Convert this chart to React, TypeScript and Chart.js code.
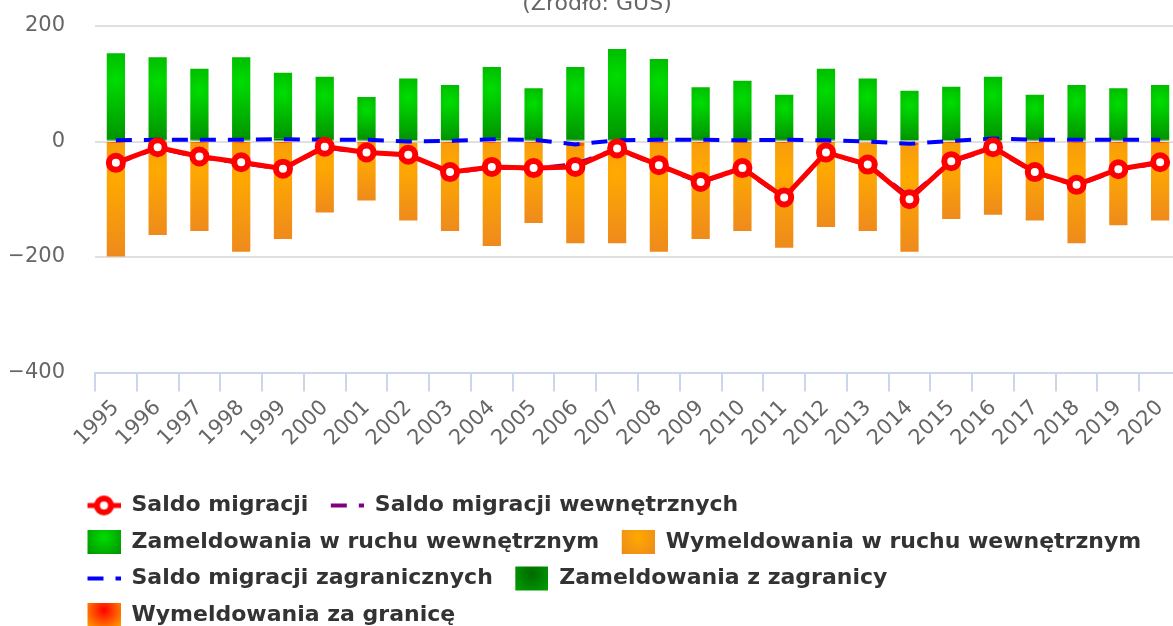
import { useEffect, useRef } from 'react';
import { Chart, registerables } from 'chart.js';

Chart.register(...registerables);

// ---- data ----
const years = ['1995','1996','1997','1998','1999','2000','2001','2002','2003','2004','2005','2006','2007','2008','2009','2010','2011','2012','2013','2014','2015','2016','2017','2018','2019','2020'];
const saldoMigracji = [-37,-10,-26,-36,-47,-9,-19,-23,-53,-44,-46,-44,-12,-41,-70,-46,-97,-19,-40,-100,-34,-10,-53,-75,-48,-36];
const saldoWewnetrznych = [-38,-11,-27,-37,-48,-10,-20,-23,-54,-45,-47,-39,-13,-42,-71,-47,-98,-20,-40,-96,-35,-12,-54,-76,-49,-37];
const saldoZagranicznych = [2,3,3,3,4,3,3,0,1,4,3,-5,2,3,3,2,3,2,0,-4,1,5,3,3,3,3];
const zameldowaniaWewn = [150,142,122,142,114,108,73,107,96,124,88,126,157,139,90,102,77,123,107,86,93,106,77,94,88,94];
const wymeldowaniaWewn = [-198,-161,-154,-190,-168,-122,-101,-135,-154,-180,-140,-168,-175,-190,-168,-154,-183,-147,-153,-185,-133,-126,-136,-175,-144,-136];
const zameldowaniaZagr = [3,4,4,4,5,4,4,2,2,5,4,3,3,4,4,3,4,3,2,2,2,6,4,4,4,4];
const wymeldowaniaZagr = [-1,-1,-1,-1,-1,-1,-1,-2,-1,-1,-1,-8,-1,-1,-1,-1,-1,-1,-2,-6,-1,-1,-1,-1,-1,-1];
const yTicks = [200, 0, -200, -400];
const subtitleText = '(Źródło: GUS)';

const FONT = 'DejaVu Sans';
const GREEN = [['0', '#00dd00'], ['1', '#009400']];
const ORANGE = [['0', '#ffaa00'], ['1', '#ee8a1c']];
const DKGREEN = [['0', '#006a00'], ['1', '#00a000']];
const REDOR = [['0', '#ff0000'], ['1', '#ffa000']];

function radial(ctx: CanvasRenderingContext2D, x0: number, y0: number, x1: number, y1: number, stops: string[][]) {
  const w = x1 - x0, h = y1 - y0;
  const cx = x0 + w * 0.5, cy = y0 + h * 0.3;
  const r = Math.max(1, 0.7 * Math.max(Math.abs(w), Math.abs(h)));
  const g = ctx.createRadialGradient(cx, cy, 0, cx, cy, r);
  stops.forEach(([o, c]) => g.addColorStop(parseFloat(o), c));
  return g;
}

function barFill(stops: string[][], base: number[] | null, vals: number[]) {
  return (c: any) => {
    const chart = c.chart;
    const xs = chart.scales?.x, ys = chart.scales?.y;
    if (c.type !== 'data' || !xs || !ys || !chart.chartArea) return stops[0][1];
    const i = c.dataIndex;
    const b = base ? base[i] : 0;
    const t = b + vals[i];
    const xc = xs.getPixelForValue(i);
    const bw = xs.width / years.length * 0.437;
    const p1 = ys.getPixelForValue(b), p2 = ys.getPixelForValue(t);
    return radial(chart.ctx, xc - bw / 2, Math.min(p1, p2), xc + bw / 2, Math.max(p1, p2), stops);
  };
}

function makeSymbol(kind: string, color: string, stops: string[][] | null, dash: number[], marker: boolean): HTMLCanvasElement {
  const c = document.createElement('canvas');
  c.width = 41; c.height = 26;
  const g = c.getContext('2d') as CanvasRenderingContext2D;
  const x0 = 8, w = 33, cy = 13;
  if (kind === 'line') {
    g.strokeStyle = color;
    g.lineWidth = marker ? 5 : 4;
    g.setLineDash(dash);
    g.beginPath(); g.moveTo(x0, cy); g.lineTo(x0 + w, cy); g.stroke();
    if (marker) {
      g.setLineDash([]);
      g.beginPath(); g.arc(x0 + w / 2, cy, 7, 0, Math.PI * 2);
      g.fillStyle = '#ffffff'; g.fill();
      g.lineWidth = 6; g.stroke();
    }
  } else {
    const h = 24, y0 = cy - h / 2;
    g.fillStyle = radial(g, x0, y0, x0 + w, y0 + h, stops as string[][]);
    g.fillRect(x0, y0, w, h);
  }
  return c;
}

const shiftLegend = {
  id: 'shiftLegend',
  afterLayout(chart: any) {
    const l = chart.legend;
    if (!l) return;
    const dx = 65 - l.left;
    l.left += dx; l.right += dx;
  },
};

export default function App() {
  const ref = useRef<HTMLCanvasElement>(null);
  useEffect(() => {
    document.documentElement.style.overflow = 'hidden';
    document.body.style.overflow = 'hidden';
    const symbols = [
      makeSymbol('line', '#ff0000', null, [], true),
      makeSymbol('line', '#800080', null, [16, 12], false),
      makeSymbol('box', '', GREEN, [], false),
      makeSymbol('box', '', ORANGE, [], false),
      makeSymbol('line', '#0000ff', null, [16, 12], false),
      makeSymbol('box', '', DKGREEN, [], false),
      makeSymbol('box', '', REDOR, [], false),
    ];
    const chart = new Chart(ref.current as HTMLCanvasElement, {
      type: 'bar',
      data: {
        labels: years,
        datasets: [
          { type: 'line', label: 'Saldo migracji', data: saldoMigracji, borderColor: '#ff0000', borderWidth: 5, pointRadius: 7, pointBorderWidth: 6, pointBackgroundColor: '#ffffff', pointBorderColor: '#ff0000', tension: 0, order: 0, stack: 's1' } as any,
          { type: 'line', label: 'Saldo migracji wewnętrznych', data: saldoWewnetrznych, borderColor: '#800080', borderWidth: 4, borderDash: [16, 12], pointRadius: 0, tension: 0, order: 2, stack: 's2' } as any,
          { type: 'bar', label: 'Zameldowania w ruchu wewnętrznym', data: zameldowaniaWewn, backgroundColor: barFill(GREEN, zameldowaniaZagr, zameldowaniaWewn), order: 5, stack: 'bars' } as any,
          { type: 'bar', label: 'Wymeldowania w ruchu wewnętrznym', data: wymeldowaniaWewn, backgroundColor: barFill(ORANGE, wymeldowaniaZagr, wymeldowaniaWewn), order: 6, stack: 'bars' } as any,
          { type: 'line', label: 'Saldo migracji zagranicznych', data: saldoZagranicznych, borderColor: '#0000ff', borderWidth: 4, borderDash: [16, 12], pointRadius: 0, tension: 0, order: 1, stack: 's3' } as any,
          { type: 'bar', label: 'Zameldowania z zagranicy', data: zameldowaniaZagr, backgroundColor: barFill(DKGREEN, null, zameldowaniaZagr), order: 3, stack: 'bars' } as any,
          { type: 'bar', label: 'Wymeldowania za granicę', data: wymeldowaniaZagr, backgroundColor: barFill(REDOR, null, wymeldowaniaZagr), order: 4, stack: 'bars' } as any,
        ],
      },
      options: {
        responsive: false,
        animation: false,
        events: [],
        devicePixelRatio: 1,
        layout: { padding: { left: 10, right: 10, top: 0, bottom: 0 } },
        datasets: { bar: { categoryPercentage: 1, barPercentage: 0.437, borderWidth: 0 } } as any,
        scales: {
          x: {
            stacked: true,
            offset: true,
            grid: { display: true, drawOnChartArea: false, drawTicks: true, tickLength: 19, color: '#ccd6eb', lineWidth: 2, offset: true },
            border: { display: true, color: '#ccd6eb', width: 2 },
            ticks: { color: '#666666', font: { family: FONT, size: 21 }, minRotation: 45, maxRotation: 45, autoSkip: false, padding: 4 },
            afterFit: (s: any) => { s.height = 107.5; },
          },
          y: {
            stacked: true,
            min: -400,
            max: 200,
            afterBuildTicks: (s: any) => { s.ticks = yTicks.map((v) => ({ value: v })); },
            grid: { color: '#e0e0e0', lineWidth: 2, drawTicks: false },
            border: { display: false },
            ticks: { color: '#666666', font: { family: FONT, size: 21 }, padding: 30, callback: (v: any) => (Number(v) < 0 ? '\u2212' + Math.abs(Number(v)) : String(v)) },
            afterFit: (s: any) => { s.width = 85; },
          },
        } as any,
        plugins: {
          title: { display: false },
          subtitle: { display: true, text: subtitleText, color: '#666666', font: { family: FONT, size: 22, weight: 'normal' }, padding: { top: 10.8, bottom: 8.8 } },
          tooltip: { enabled: false },
          legend: {
            position: 'bottom',
            align: 'start',
            labels: {
              usePointStyle: true,
              pointStyleWidth: 41,
              padding: 14.5,
              color: '#333333',
              font: { family: FONT, size: 22, weight: 'bold' },
              generateLabels: (ch: any) => ch.data.datasets.map((ds: any, i: number) => ({
                text: ds.label, pointStyle: symbols[i], datasetIndex: i, hidden: false,
                fontColor: '#333333', lineWidth: 0, strokeStyle: 'rgba(0,0,0,0)', fillStyle: 'rgba(0,0,0,0)',
              })),
              sort: (a: any, b: any) => a.datasetIndex - b.datasetIndex,
            },
          },
        } as any,
      },
      plugins: [shiftLegend],
    });
    return () => chart.destroy();
  }, []);
  return (
    <div style={{ position: 'fixed', left: 0, top: -20, width: 1194, height: 656, overflow: 'hidden', background: '#ffffff' }}>
      <canvas ref={ref} width={1194} height={656} style={{ width: 1194, height: 656, display: 'block' }} />
    </div>
  );
}
